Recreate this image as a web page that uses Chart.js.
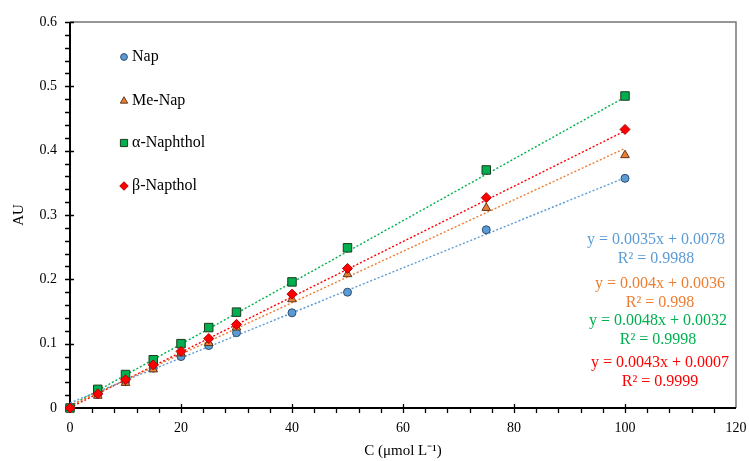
<!DOCTYPE html>
<html>
<head>
<meta charset="utf-8">
<script src="https://cdn.jsdelivr.net/npm/chart.js@4.4.1/dist/chart.umd.min.js"></script>
<style>
  html, body { margin: 0; padding: 0; background: #fff; }
  #wrap { width: 749px; height: 461px; }
</style>
</head>
<body>
<div id="wrap"><canvas id="calib"></canvas></div>
<script>
// Concentration (µmol/L) and absorbance for each compound
const conc = [0, 5, 10, 15, 20, 25, 30, 40, 50, 75, 100];
const nap = [0, 0.021, 0.041, 0.062, 0.080, 0.097, 0.117, 0.148, 0.180, 0.277, 0.357];
const meNap = [0, 0.019, 0.039, 0.060, 0.085, 0.101, 0.125, 0.169, 0.208, 0.311, 0.393];
const aNaphthol = [0, 0.029, 0.052, 0.075, 0.100, 0.125, 0.149, 0.196, 0.249, 0.370, 0.485];
const bNapthol = [0, 0.022, 0.044, 0.067, 0.088, 0.108, 0.130, 0.177, 0.217, 0.327, 0.433];

const names = ['Nap', 'Me-Nap', 'α-Naphthol', 'β-Napthol'];
// linear fits (slope, intercept, R²)
const fitSlope = [0.0035, 0.004, 0.0048, 0.0043];
const fitIntercept = [0.0078, 0.0036, 0.0032, 0.0007];
const fitR2 = ['0.9988', '0.998', '0.9998', '0.9999'];
const fitRange = [0, 100];

const xTicks = [0, 20, 40, 60, 80, 100, 120];
const yTicks = [0, 0.1, 0.2, 0.3, 0.4, 0.5, 0.6];

const series = [nap, meNap, aNaphthol, bNapthol];
const fills = ['#5b9bd5', '#ed7d31', '#00b050', '#ff0000'];
const edges = ['#2f4f6f', '#5a3a20', '#1e3a1e', '#b00000'];
const shapes = ['circle', 'triangle', 'rect', 'rectRot'];
const sizes = [4, 5, 6, 5];

const SERIF = '"Liberation Serif", "Times New Roman", serif';

const datasets = [];
series.forEach((vals, i) => {
    datasets.push({
        label: names[i],
        data: conc.map((c, k) => ({ x: c, y: vals[k] })),
        showLine: false,
        pointStyle: shapes[i],
        pointRadius: sizes[i],
        pointHoverRadius: sizes[i],
        backgroundColor: fills[i],
        borderColor: edges[i],
        pointBorderWidth: 1,
        clip: false,
        order: 4 - i
    });
});
series.forEach((vals, i) => {
    datasets.push({
        label: names[i] + ' fit',
        data: fitRange.map(x => ({ x: x, y: fitSlope[i] * x + fitIntercept[i] })),
        showLine: true,
        pointRadius: 0,
        borderColor: fills[i],
        borderWidth: 1.4,
        borderDash: [2, 2],
        clip: false,
        order: 10
    });
});

// frame and tick marks, drawn under the markers
const axesPlugin = {
    id: 'axesFrame',
    beforeDatasetsDraw(chart) {
        const { ctx, chartArea: a, scales } = chart;
        const xs = scales.x, ys = scales.y;
        ctx.save();
        ctx.strokeStyle = '#767676';
        ctx.lineWidth = 1.5;
        ctx.beginPath();
        ctx.moveTo(a.left, a.top);
        ctx.lineTo(a.right, a.top);
        ctx.lineTo(a.right, a.bottom);
        ctx.stroke();

        ctx.strokeStyle = '#000';
        ctx.lineWidth = 1.3;
        ctx.beginPath();
        for (let v = 0; v < 120; v += 4) {
            const px = Math.round(xs.getPixelForValue(v)) + 0.5;
            const major = v % 20 === 0;
            ctx.moveTo(px, major ? a.bottom - 4 : a.bottom);
            ctx.lineTo(px, a.bottom + 5);
        }
        for (let k = 0; k <= 30; k++) {
            const py = Math.round(ys.getPixelForValue(k * 0.02)) + 0.5;
            const major = k % 5 === 0;
            ctx.moveTo(a.left - 5, py);
            ctx.lineTo(major ? a.left + 4 : a.left, py);
        }
        ctx.stroke();

        ctx.lineWidth = 2;
        ctx.beginPath();
        ctx.moveTo(a.left, a.top);
        ctx.lineTo(a.left, a.bottom);
        ctx.lineTo(a.right, a.bottom);
        ctx.stroke();
        ctx.restore();
    }
};

// legend entries and fit equations
const notesPlugin = {
    id: 'notes',
    afterDatasetsDraw(chart) {
        const { ctx, chartArea: a } = chart;
        ctx.save();
        ctx.font = '16px ' + SERIF;
        ctx.textBaseline = 'middle';
        const legendY = [57, 101, 143, 186];
        names.forEach((name, i) => {
            ctx.fillStyle = fills[i];
            ctx.strokeStyle = edges[i];
            ctx.lineWidth = 1;
            Chart.helpers.drawPoint(ctx, {
                pointStyle: shapes[i],
                radius: sizes[i] * 0.85,
                borderWidth: 1
            }, a.left + 54, legendY[i]);
            ctx.fillStyle = '#000';
            ctx.textAlign = 'left';
            ctx.fillText(name, a.left + 62, legendY[i]);
        });

        const eqX = [656, 660, 658, 660];
        const eqY = [240, 284, 321, 363];
        ctx.textAlign = 'center';
        names.forEach((name, i) => {
            ctx.fillStyle = fills[i];
            const b = fitIntercept[i];
            const eq = 'y = ' + fitSlope[i] + 'x ' + (b < 0 ? '- ' : '+ ') + Math.abs(b);
            ctx.fillText(eq, eqX[i], eqY[i]);
            ctx.fillText('R² = ' + fitR2[i], eqX[i], eqY[i] + 19);
        });
        ctx.restore();
    }
};

new Chart(document.getElementById('calib'), {
    type: 'scatter',
    data: { datasets: datasets },
    options: {
        responsive: true,
        maintainAspectRatio: false,
        animation: false,
        events: [],
        layout: { padding: { top: 22, right: 13, left: 0, bottom: 0 } },
        plugins: {
            legend: { display: false },
            tooltip: { enabled: false }
        },
        scales: {
            x: {
                type: 'linear',
                min: 0,
                max: 120,
                afterFit(scale) {
                    scale.height = 53;
                    scale.paddingLeft = 0;
                    scale.paddingRight = 0;
                },
                afterBuildTicks(scale) { scale.ticks = xTicks.map(v => ({ value: v })); },
                grid: { display: false, drawTicks: false },
                border: { display: false },
                ticks: {
                    padding: 12,
                    color: '#000',
                    font: { family: SERIF, size: 14 }
                },
                title: {
                    display: true,
                    text: 'C (μmol L⁻¹)',
                    color: '#000',
                    font: { family: SERIF, size: 15 },
                    padding: { top: 0, bottom: 1 }
                }
            },
            y: {
                type: 'linear',
                min: 0,
                max: 0.6,
                afterFit(scale) {
                    scale.width = 70;
                    scale.paddingTop = 0;
                    scale.paddingBottom = 0;
                },
                afterBuildTicks(scale) { scale.ticks = yTicks.map(v => ({ value: v })); },
                grid: { display: false, drawTicks: false },
                border: { display: false },
                ticks: {
                    padding: 13,
                    color: '#000',
                    font: { family: SERIF, size: 14 },
                    callback: v => String(+v.toFixed(1))
                },
                title: {
                    display: true,
                    text: 'AU',
                    color: '#000',
                    font: { family: SERIF, size: 15 },
                    padding: { top: 10, bottom: 0 }
                }
            }
        }
    },
    plugins: [axesPlugin, notesPlugin]
});
</script>
</body>
</html>
